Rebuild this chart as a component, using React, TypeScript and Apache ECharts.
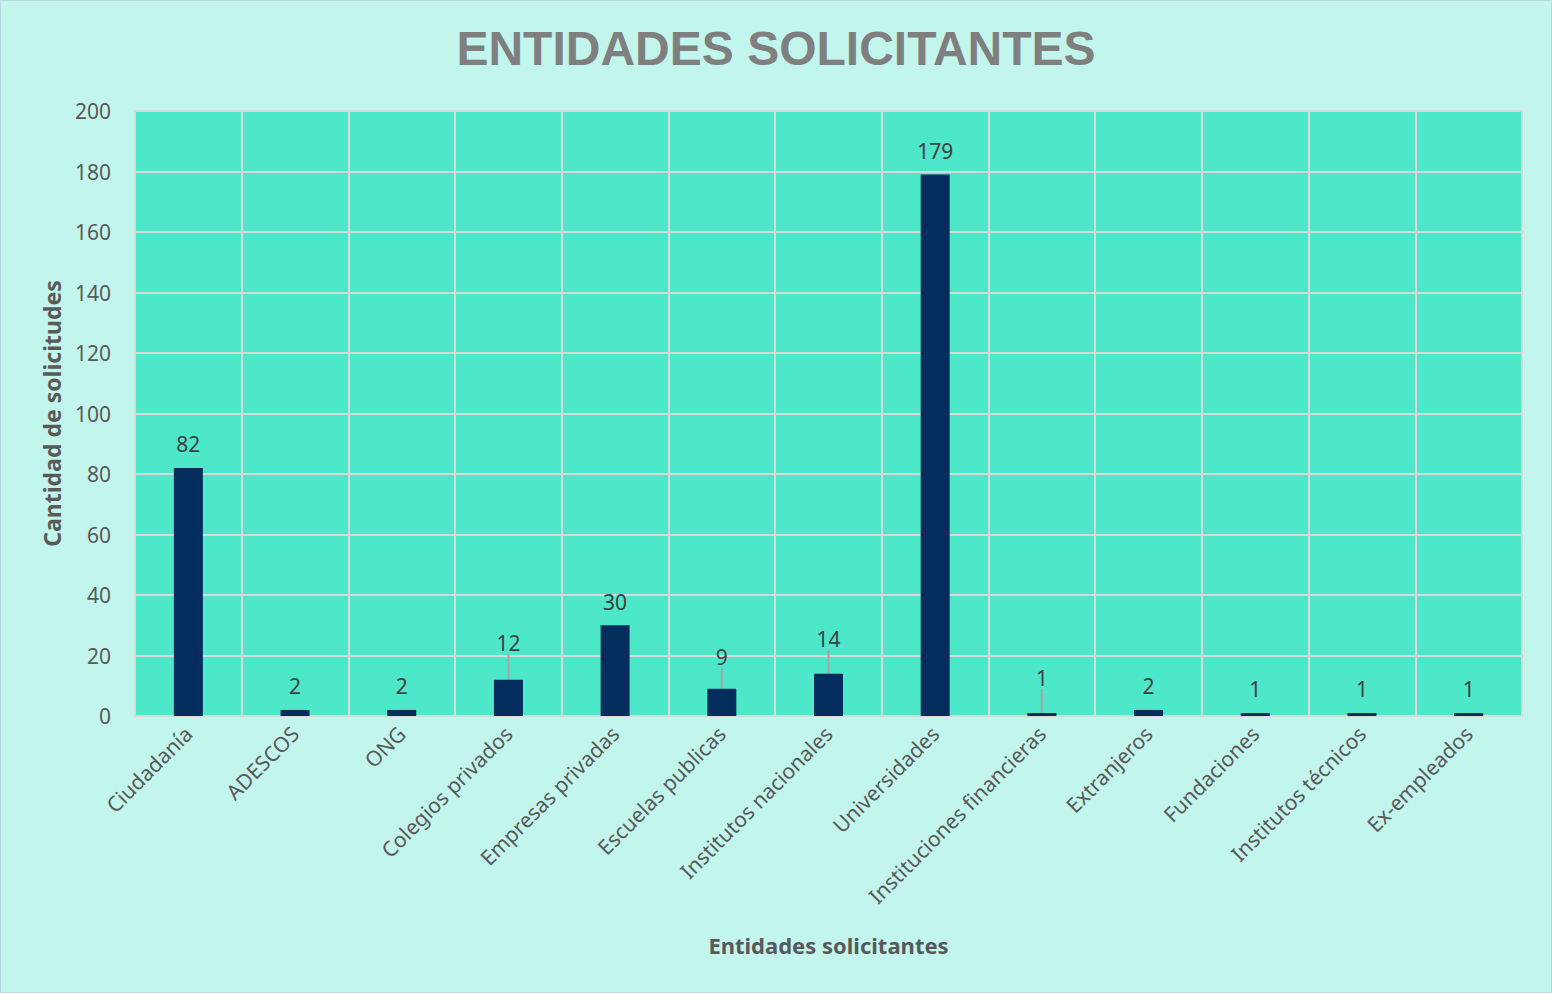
import React, { useEffect, useRef } from "react";
import * as echarts from "echarts";

const categories = [
  "Ciudadanía",
  "ADESCOS",
  "ONG",
  "Colegios privados",
  "Empresas privadas",
  "Escuelas publicas",
  "Institutos nacionales",
  "Universidades",
  "Instituciones financieras",
  "Extranjeros",
  "Fundaciones",
  "Institutos técnicos",
  "Ex-empleados",
];
const values = [82, 2, 2, 12, 30, 9, 14, 179, 1, 2, 1, 1, 1];
const yTicks = { min: 0, max: 200, interval: 20 };
// label lifted (px) for labels displayed with a leader line
const labelLift: Record<number, number> = { 3: -13, 5: -8, 6: -11, 8: -11 };

export default function App() {
  const ref = useRef<HTMLDivElement>(null);
  useEffect(() => {
    document.body.style.margin = "0";
    const chart = echarts.init(ref.current!, null, { renderer: "svg" });
    const font = "Noto Sans";
    chart.setOption({
      animation: false,
      backgroundColor: "#c2f5ec",
      title: {
        text: "ENTIDADES SOLICITANTES",
        left: "center",
        top: 18,
        textStyle: {
          fontFamily: "Liberation Sans",
          fontWeight: "bold",
          fontSize: 48,
          color: "#7f7f7f",
        },
      },
      grid: {
        left: 134,
        right: 29,
        top: 110,
        bottom: 276,
        show: true,
        backgroundColor: "#4de8c9",
        borderColor: "#d9d9d9",
        borderWidth: 2,
      },
      xAxis: {
        type: "category",
        data: categories,
        name: "Entidades solicitantes",
        nameLocation: "middle",
        nameGap: 218,
        nameTextStyle: { fontFamily: font, fontWeight: "bold", fontSize: 22, color: "#595959" },
        axisLine: { lineStyle: { color: "#d9d9d9", width: 2 } },
        axisTick: { show: false },
        splitLine: { show: true, lineStyle: { color: "#d9d9d9", width: 2 } },
        axisLabel: {
          rotate: 45,
          interval: 0,
          margin: 14,
          fontFamily: font,
          fontSize: 21,
          color: "#595959",
        },
      },
      yAxis: {
        type: "value",
        min: yTicks.min,
        max: yTicks.max,
        interval: yTicks.interval,
        name: "Cantidad de solicitudes",
        nameLocation: "middle",
        nameGap: 72,
        nameTextStyle: { fontFamily: font, fontWeight: "bold", fontSize: 23, color: "#595959" },
        axisLine: { show: false },
        axisTick: { show: false },
        splitLine: { lineStyle: { color: "#d9d9d9", width: 2 } },
        axisLabel: { margin: 24, fontFamily: font, fontSize: 21, color: "#595959" },
      },
      series: [
        {
          type: "bar",
          data: values.map((v, i) => ({
            value: v,
            labelLine: { show: !!labelLift[i] },
          })),
          barWidth: 29,
          itemStyle: { color: "#042c5c" },
          label: {
            show: true,
            position: "top",
            distance: 13,
            fontFamily: font,
            fontSize: 21,
            color: "#404040",
          },
          labelLine: { show: false, lineStyle: { color: "#a6a6a6", width: 2 } },
          labelLayout: (p: any) =>
            labelLift[p.dataIndex] ? { dy: labelLift[p.dataIndex] } : {},
        },
      ],
    });
    return () => chart.dispose();
  }, []);
  return (
    <div
      ref={ref}
      style={{
        position: "absolute",
        left: 0,
        top: 0,
        width: 1552,
        height: 993,
        boxSizing: "border-box",
        border: "1px solid #b9d9e0",
      }}
    />
  );
}
